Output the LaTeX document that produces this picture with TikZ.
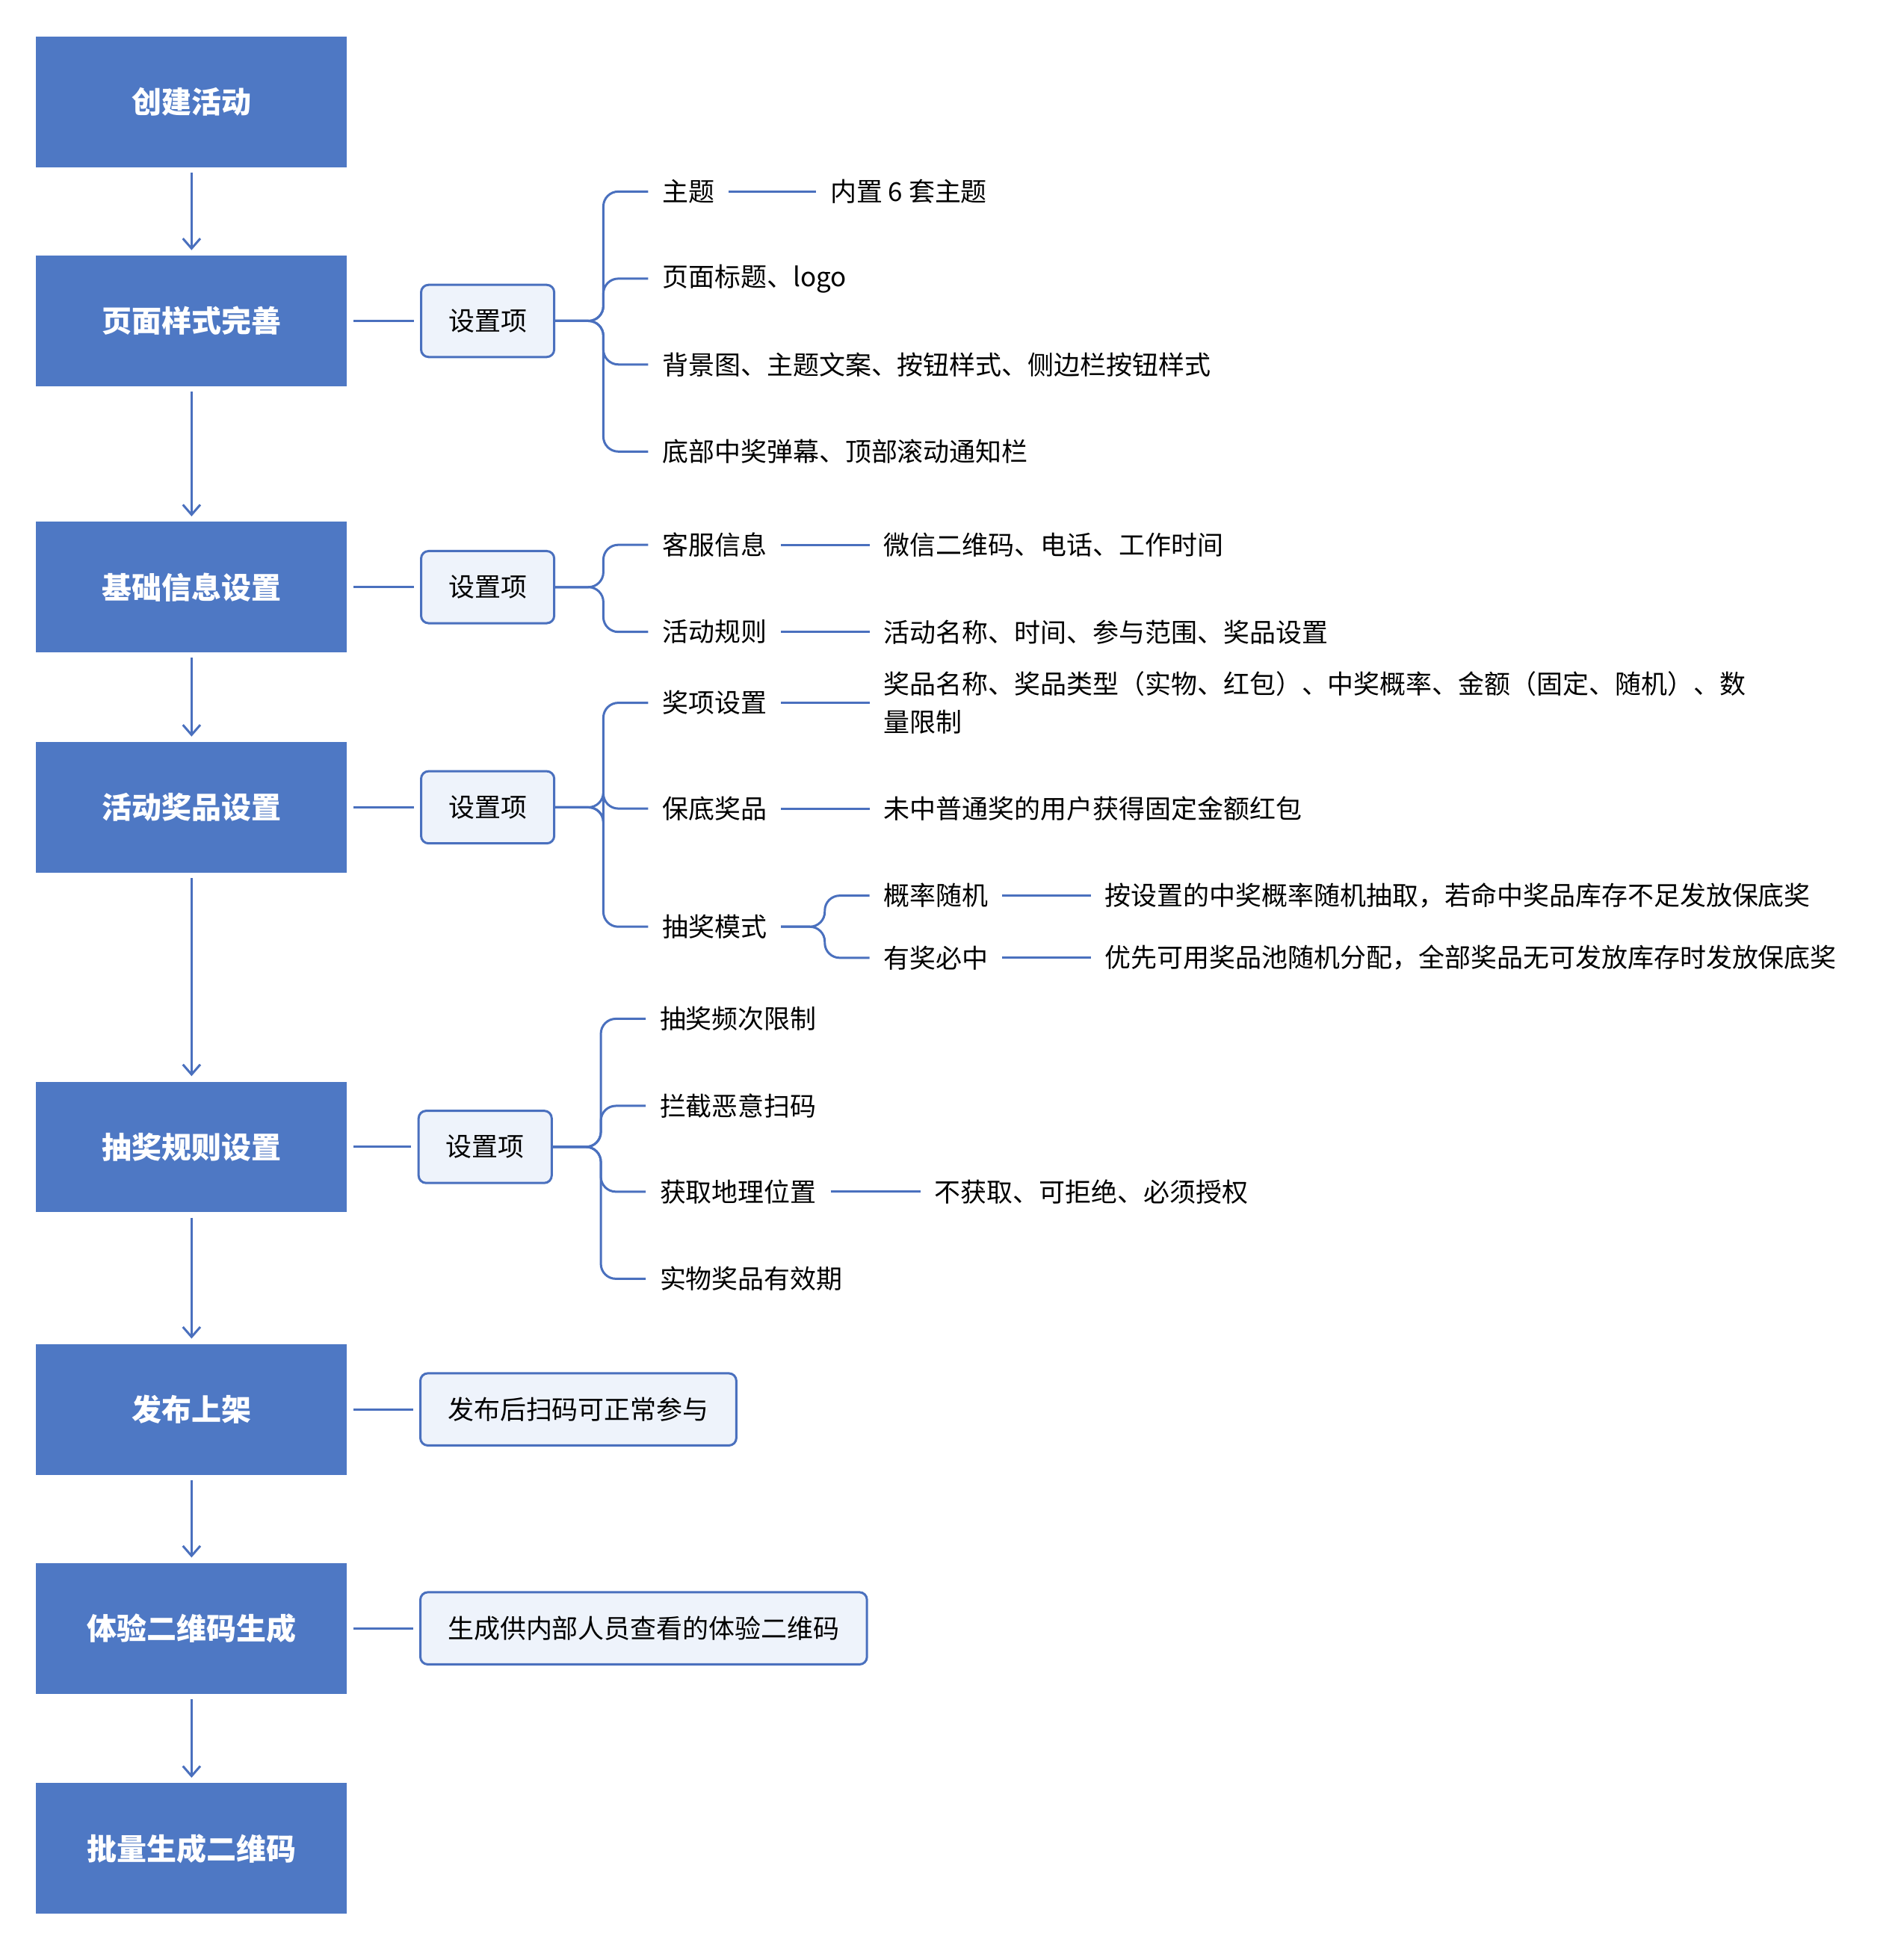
\documentclass[tikz,border=0pt]{standalone}
\usepackage{fontspec}
\setmainfont{Noto Sans CJK SC}
\usetikzlibrary{positioning, arrows.meta}
\definecolor{mainblue}{HTML}{4E78C4}
\definecolor{lineblue}{HTML}{4A70BE}
\definecolor{paleblue}{HTML}{EEF3FB}
\begin{document}
\begin{tikzpicture}[x=0.5pt, y=-0.5pt,
       stage/.style = {rectangle, fill=mainblue, text=white, minimum width=125pt,
                       minimum height=52.5pt, font=\fontsize{12}{14}\selectfont\bfseries},
         set/.style = {rectangle, draw=lineblue, fill=paleblue, line width=0.9pt,
                       rounded corners=3pt, minimum height=29pt, inner xsep=11pt,
                       font=\fontsize{10.5}{13}\selectfont},
         txt/.style = {anchor=west, inner sep=5.5pt, font=\fontsize{10.5}{15.5}\selectfont, align=left},
        flow/.style = {draw=lineblue, line width=0.9pt, -{Straight Barb[length=4pt,width=7pt]}},
        link/.style = {draw=lineblue, line width=0.9pt},
      branch/.style = {draw=lineblue, line width=0.9pt, rounded corners=6pt}
                        ]
\useasboundingbox (0,0) rectangle (1530,1566);
% main column
\node (s1) [stage] at (154,82)   {创建活动};
\node (s2) [stage] at (154,258)  {页面样式完善};
\node (s3) [stage] at (154,472)  {基础信息设置};
\node (s4) [stage] at (154,649)  {活动奖品设置};
\node (s5) [stage] at (154,922)  {抽奖规则设置};
\node (s6) [stage] at (154,1133) {发布上架};
\node (s7) [stage] at (154,1309) {体验二维码生成};
\node (s8) [stage] at (154,1486) {批量生成二维码};
\foreach \a/\b in {s1/s2, s2/s3, s3/s4, s4/s5, s5/s6, s6/s7, s7/s8}
  \draw[flow] ([yshift=-2pt]\a.south) -- ([yshift=2pt]\b.north);
% settings boxes
\node (set2) [set] at (392,258) {设置项};
\node (set3) [set] at (392,472) {设置项};
\node (set4) [set] at (392,649) {设置项};
\node (set5) [set] at (390,922) {设置项};
\node (pub)  [set, anchor=west] at (337,1133) {发布后扫码可正常参与};
\node (exp)  [set, anchor=west] at (337,1309) {生成供内部人员查看的体验二维码};
\foreach \a/\b in {s2/set2, s3/set3, s4/set4, s5/set5, s6/pub, s7/exp}
  \draw[link] ([xshift=2.5pt]\a.east) -- ([xshift=-2.5pt]\b.west);
% page style items
\node (theme) [txt] at (521,154) {主题};
\node (themex)[txt] at (656,154) {内置 6 套主题};
\node (title) [txt] at (521,224) {页面标题、logo};
\node (bg)    [txt] at (521,293) {背景图、主题文案、按钮样式、侧边栏按钮样式};
\node (bar)   [txt] at (521,363) {底部中奖弹幕、顶部滚动通知栏};
\foreach \b in {theme, title, bg, bar}
  \draw[branch] (set2.east) -- (485,258) |- (\b.west);
\draw[link] (theme.east) -- (themex.west);
% basic info items
\node (cs)    [txt] at (521,438) {客服信息};
\node (csx)   [txt] at (699,438) {微信二维码、电话、工作时间};
\node (rule)  [txt] at (521,508) {活动规则};
\node (rulex) [txt] at (699,508) {活动名称、时间、参与范围、奖品设置};
\foreach \b in {cs, rule}
  \draw[branch] (set3.east) -- (485,472) |- (\b.west);
\draw[link] (cs.east) -- (csx.west);
\draw[link] (rule.east) -- (rulex.west);
% prize items
\node (award)  [txt] at (521,565) {奖项设置};
\node (awardx) [txt] at (699,565) {奖品名称、奖品类型（实物、红包）、中奖概率、金额（固定、随机）、数\\量限制};
\node (floor)  [txt] at (521,650) {保底奖品};
\node (floorx) [txt] at (699,650) {未中普通奖的用户获得固定金额红包};
\node (mode)   [txt] at (521,745) {抽奖模式};
\node (prob)   [txt] at (699,720) {概率随机};
\node (probx)  [txt] at (877,720) {按设置的中奖概率随机抽取，若命中奖品库存不足发放保底奖};
\node (sure)   [txt] at (699,770) {有奖必中};
\node (surex)  [txt] at (877,770) {优先可用奖品池随机分配，全部奖品无可发放库存时发放保底奖};
\foreach \b in {award, floor, mode}
  \draw[branch] (set4.east) -- (485,649) |- (\b.west);
\draw[link] (award.east) -- (awardx.west |- award.east);
\draw[link] (floor.east) -- (floorx.west);
\foreach \b in {prob, sure}
  \draw[branch] (mode.east) -- (663,745) |- (\b.west);
\draw[link] (prob.east) -- (probx.west);
\draw[link] (sure.east) -- (surex.west);
% lottery rule items
\node (freq)  [txt] at (519,819)  {抽奖频次限制};
\node (block) [txt] at (519,889)  {拦截恶意扫码};
\node (geo)   [txt] at (519,958)  {获取地理位置};
\node (geox)  [txt] at (740,958)  {不获取、可拒绝、必须授权};
\node (valid) [txt] at (519,1028) {实物奖品有效期};
\foreach \b in {freq, block, geo, valid}
  \draw[branch] (set5.east) -- (483,922) |- (\b.west);
\draw[link] (geo.east) -- (geox.west);
\end{tikzpicture}
\end{document}
